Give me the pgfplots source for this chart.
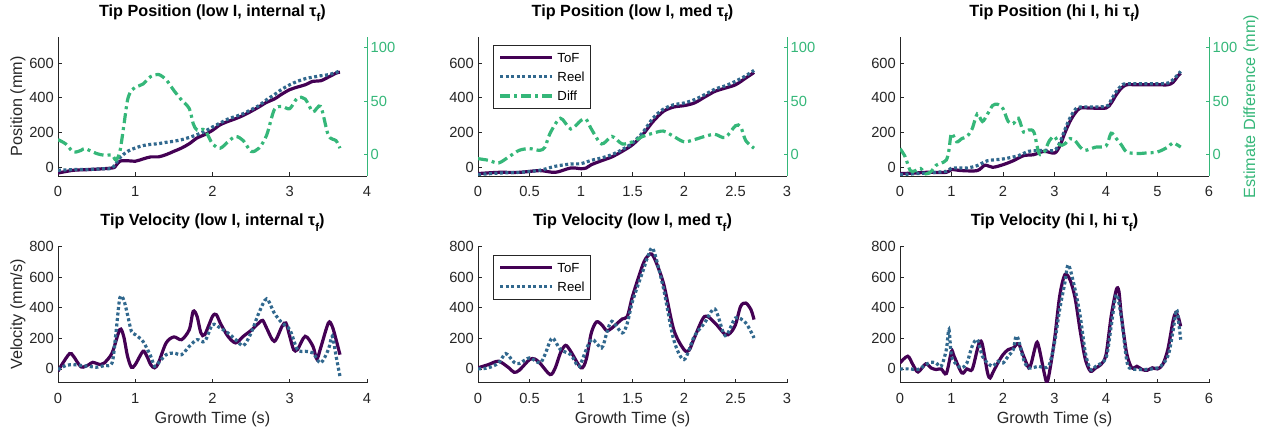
\documentclass[border=0pt]{standalone}
\usepackage{fontspec}
\setmainfont{Liberation Sans}
\usepackage{pgfplots}
\pgfplotsset{compat=1.18}

\definecolor{tofc}{RGB}{68,1,84}
\definecolor{reelc}{RGB}{49,104,142}
\definecolor{diffc}{RGB}{53,183,121}
\definecolor{axgray}{RGB}{38,38,38}

\newcommand\tickfont{\fontsize{14.7}{17}\selectfont}
\newcommand\labfont{\fontsize{16.2}{19}\selectfont}
\newcommand\titfont{\fontsize{16.2}{19}\selectfont\bfseries}
\newcommand\legfont{\fontsize{13.2}{15}\selectfont}
% subscript f of the time constant, set low as in the titles
\newcommand\tauf{τ\raisebox{-0.32em}{\fontsize{11.5}{12}\selectfont f}}

\pgfplotsset{
  tof/.style={tofc, line width=3.2pt, smooth, tension=0.5},
  reel/.style={reelc, line width=3.2pt, dash pattern=on 3pt off 2.5pt, smooth, tension=0.5},
  diff/.style={diffc, line width=3.2pt, dash pattern=on 10pt off 4pt on 3pt off 4pt, smooth, tension=0.5},
  panel/.style={
    scale only axis, width=309pt, anchor=south west,
    axis line style={-, draw=axgray, line width=0.8pt},
    every tick/.style={draw=axgray, line width=0.8pt},
    major tick length=3.5pt, tick align=inside,
    ticklabel style={font=\tickfont, text=axgray, inner sep=0pt},
    /pgf/number format/assume math mode=true,
    xticklabel style={anchor=north, yshift=-10pt},
    title style={at={(axis description cs:0.5,1)}, anchor=base, yshift=14.5pt, font=\titfont, text=black, inner sep=0pt},
    every axis y label/.style={at={(axis description cs:-0.1165,0.5)}, rotate=90, anchor=base, font=\labfont, text=axgray, inner sep=0pt},
    every axis x label/.style={at={(axis description cs:0.5,0)}, anchor=base, yshift=-40.6pt, font=\labfont, text=axgray, inner sep=0pt},
    legend image code/.code={\draw[##1] (0pt,0pt) -- (51.7pt,0pt);},
    legend cell align=left,
    legend style={draw=axgray, line width=0.6pt, fill=white, font=\legfont,
      inner xsep=5.3pt, inner ysep=7.5pt, row sep=9.6pt, cells={anchor=west},
      nodes={inner sep=0pt, text height=9.6pt, text depth=0pt},
      /tikz/every odd column/.append style={column sep=4pt}},
  },
  lefty/.style={panel, axis x line*=bottom, axis y line*=left,
    yticklabel style={anchor=east, xshift=-4pt}},
  posleft/.style={lefty, height=139pt, ymin=-50, ymax=750, ytick={0,200,400,600}},
  posright/.style={panel, height=139pt, ymin=-20, ymax=110, ytick={0,50,100},
    axis y line*=right, axis x line=none, xtick=\empty,
    y axis line style={draw=diffc},
    every tick/.append style={draw=diffc},
    yticklabel style={anchor=west, xshift=3.5pt, text=diffc}},
  vel/.style={lefty, height=136.3pt, ymin=-90, ymax=800, ytick={0,200,400,600,800},
    xlabel={Growth Time (s)}},
}

\begin{document}
\begin{tikzpicture}
\useasboundingbox (0,0) rectangle (1266pt,428pt);

% ---------- Position, low I, internal tau_f ----------
\begin{axis}[posleft, at={(58pt,252pt)}, xmin=0, xmax=4, xtick={0,1,2,3,4},
  ylabel={Position (mm)}, title={Tip Position (low I, internal \tauf)}]
\addplot[tof] table {
0 -33
0.2 -17
0.4 -13
0.7 -4
0.75 10
0.8 35
0.9 38
1.0 35
1.1 48
1.2 60
1.3 60
1.4 73
1.5 92
1.6 111
1.7 136
1.8 169
1.9 188
2.0 213
2.1 245
2.2 264
2.3 280
2.4 299
2.5 322
2.6 347
2.7 374
2.8 393
2.9 422
3.0 447
3.1 462
3.2 475
3.3 495
3.4 498
3.5 519
3.6 542
3.65 548
};
\addplot[reel] table {
0 -17
0.2 -13
0.4 -12
0.6 -8
0.7 -4
0.8 54
0.9 92
1.0 111
1.1 125
1.2 132
1.3 136
1.4 144
1.5 150
1.6 159
1.7 172
1.8 188
1.9 207
2.0 232
2.1 255
2.2 278
2.3 293
2.4 309
2.5 332
2.6 355
2.7 389
2.8 418
2.9 450
3.0 475
3.1 495
3.2 510
3.3 519
3.4 527
3.5 533
3.6 546
3.65 556
};
\end{axis}
\begin{axis}[posright, at={(58pt,252pt)}, xmin=0, xmax=4]
\addplot[diff] table {
0 14
0.1 10
0.2 2.5
0.3 4
0.35 5.6
0.5 1
0.6 -0.6
0.7 -0.6
0.75 -5
0.8 2.5
0.85 26
0.9 51
0.95 60
1.0 63
1.1 66
1.2 73
1.3 75
1.4 70
1.5 60
1.6 51
1.7 43
1.75 29
1.8 23
1.9 23
2.0 10
2.1 6
2.2 12
2.3 17
2.4 13
2.5 3
2.6 6
2.7 18
2.8 42
2.9 45
3.0 43
3.1 53
3.2 52
3.3 40
3.4 45
3.5 18
3.6 13
3.65 6
};
\end{axis}

% ---------- Position, low I, med tau_f ----------
\begin{axis}[posleft, at={(478pt,252pt)}, xmin=0, xmax=3, xtick={0,0.5,1,1.5,2,2.5,3},
  title={Tip Position (low I, med \tauf)}]
\addplot[tof] table {
0 -36
0.2 -29
0.4 -29
0.6 -19
0.75 -29
0.9 -4
1.0 -8
1.05 -4
1.1 15
1.2 38
1.3 60
1.4 92
1.5 130
1.6 188
1.7 264
1.8 322
1.9 347
2.0 355
2.1 370
2.2 404
2.3 437
2.4 456
2.5 475
2.6 514
2.68 546
};
\addplot[reel] table {
0 -42
0.2 -33
0.4 -29
0.6 -17
0.75 6
0.9 19
1.0 21
1.1 40
1.2 54
1.3 73
1.4 102
1.5 140
1.6 201
1.7 284
1.8 335
1.9 360
2.0 370
2.1 389
2.2 418
2.3 450
2.4 469
2.5 495
2.6 527
2.68 558
};
\end{axis}
\begin{axis}[posright, at={(478pt,252pt)}, xmin=0, xmax=3,
  legend style={at={(0.0485,0.942)}, anchor=north west}]
\addlegendimage{tof}\addlegendentry{ToF}
\addlegendimage{reel}\addlegendentry{Reel}
\addplot[diff] table {
0 -3.8
0.1 -5.3
0.2 -7.8
0.3 -2
0.4 4
0.5 5.6
0.6 4
0.65 7
0.7 20
0.8 34
0.9 24
1.0 32
1.05 33
1.1 24
1.2 10
1.3 17
1.4 10
1.5 12
1.6 17
1.7 20
1.8 22
1.9 17
2.0 12
2.1 14
2.2 17
2.3 19
2.4 16
2.5 27
2.55 26
2.6 13
2.68 6
};
\addlegendentry{Diff}
\end{axis}

% ---------- Position, hi I, hi tau_f ----------
\begin{axis}[posleft, at={(900pt,252pt)}, xmin=0, xmax=6, xtick={0,1,2,3,4,5,6},
  title={Tip Position (hi I, hi \tauf)}]
\addplot[tof] table {
0 -36
0.3 -33
0.5 -29
0.9 -29
1.0 -13
1.2 -19
1.5 -19
1.65 12
1.8 0
2.0 15
2.2 38
2.4 67
2.6 73
2.8 92
3.0 82
3.1 121
3.2 197
3.3 264
3.4 312
3.5 341
3.7 341
4.0 341
4.1 370
4.2 418
4.3 456
4.4 475
4.6 475
5.0 475
5.2 475
5.3 489
5.4 527
5.45 542
};
\addplot[reel] table {
0 -42
0.5 -33
0.9 -23
1.0 -4
1.3 -4
1.5 10
1.7 38
2.0 48
2.3 67
2.5 92
2.8 98
3.0 98
3.1 140
3.2 216
3.3 284
3.4 332
3.5 347
4.0 351
4.1 389
4.2 437
4.3 469
4.4 481
5.0 481
5.2 485
5.3 504
5.45 552
};
\end{axis}
\begin{axis}[posright, at={(900pt,252pt)}, xmin=0, xmax=6,
  ylabel={Estimate Difference (mm)},
  every axis y label/.append style={at={(axis description cs:1.1489,0.5)}, text=diffc}]
\addplot[diff] table {
0 5.6
0.1 -2
0.2 -15
0.3 -15
0.4 -13
0.5 -18
0.6 -16
0.7 -10
0.8 -8
0.9 -5
0.95 4
1.0 20
1.1 12
1.2 15
1.3 17
1.4 24
1.5 38
1.6 31
1.7 38
1.8 46
1.9 47
2.0 43
2.1 31
2.2 29
2.3 34
2.4 21
2.5 23
2.6 21
2.7 1
2.8 2.5
2.9 13
3.0 17
3.1 9
3.2 10
3.3 15
3.4 13
3.5 7
3.6 4
3.8 7
4.0 8
4.1 20
4.2 15
4.3 9
4.4 2.5
4.6 1
4.8 1.6
5.0 2.5
5.2 7
5.3 11
5.45 7
};
\end{axis}

% ---------- Velocity, low I, internal tau_f ----------
\begin{axis}[vel, at={(58pt,45.3pt)}, xmin=0, xmax=4, xtick={0,1,2,3,4},
  ylabel={Velocity (mm/s)}, title={Tip Velocity (low I, internal \tauf)}]
\addplot[tof] table {
0 -15
0.05 28
0.15 100
0.2 83
0.3 13
0.4 28
0.45 43
0.55 28
0.6 39
0.7 104
0.8 257
0.85 213
0.9 83
0.95 11
1.0 28
1.1 115
1.15 83
1.2 28
1.25 7
1.3 39
1.4 170
1.5 209
1.6 191
1.7 257
1.75 376
1.8 343
1.85 235
1.9 224
2.0 343
2.05 354
2.1 300
2.2 213
2.3 170
2.4 213
2.5 252
2.6 300
2.65 317
2.7 267
2.8 180
2.9 278
2.95 300
3.0 213
3.05 126
3.1 126
3.2 213
3.3 148
3.35 65
3.4 137
3.5 300
3.55 278
3.6 191
3.65 93
};
\addplot[reel] table {
0 -4
0.1 22
0.2 28
0.3 22
0.4 17
0.5 11
0.6 22
0.7 39
0.75 235
0.8 463
0.85 452
0.9 354
0.95 246
1.0 224
1.1 180
1.2 83
1.25 17
1.3 39
1.4 93
1.5 104
1.6 93
1.7 148
1.8 191
1.9 180
2.0 289
2.1 267
2.2 235
2.3 191
2.4 152
2.5 235
2.6 365
2.7 457
2.8 365
2.9 300
3.0 257
3.1 126
3.2 115
3.3 104
3.4 39
3.5 126
3.55 213
3.6 83
3.65 -48
};
\end{axis}

% ---------- Velocity, low I, med tau_f ----------
\begin{axis}[vel, at={(478pt,45.3pt)}, xmin=0, xmax=3, xtick={0,0.5,1,1.5,2,2.5,3},
  title={Tip Velocity (low I, med \tauf)},
  legend style={at={(0.0485,0.939)}, anchor=north west}]
\addplot[tof] table {
0 7
0.1 28
0.2 50
0.3 7
0.35 -22
0.4 -9
0.5 61
0.55 65
0.6 39
0.7 -37
0.75 7
0.8 104
0.85 154
0.9 115
1.0 7
1.05 61
1.1 235
1.15 307
1.2 289
1.25 250
1.3 267
1.4 326
1.45 343
1.5 474
1.6 680
1.65 739
1.7 739
1.8 561
1.9 257
2.0 126
2.05 122
2.1 202
2.2 343
2.3 300
2.4 224
2.45 235
2.5 289
2.55 409
2.6 430
2.65 387
2.68 322
};
\addlegendentry{ToF}
\addplot[reel] table {
0 0
0.1 7
0.2 39
0.27 100
0.35 43
0.4 35
0.5 72
0.6 39
0.65 93
0.72 202
0.8 126
0.9 93
0.97 17
1.0 39
1.1 191
1.2 137
1.25 235
1.3 311
1.4 235
1.45 300
1.5 441
1.6 637
1.65 735
1.7 783
1.8 528
1.9 191
2.0 61
2.1 213
2.2 300
2.3 391
2.4 217
2.5 333
2.6 300
2.68 202
};
\addlegendentry{Reel}
\end{axis}

% ---------- Velocity, hi I, hi tau_f ----------
\begin{axis}[vel, at={(900pt,45.3pt)}, xmin=0, xmax=6, xtick={0,1,2,3,4,5,6},
  title={Tip Velocity (hi I, hi \tauf)}]
\addplot[tof] table {
0 39
0.15 83
0.25 28
0.35 -20
0.5 33
0.6 7
0.7 -4
0.8 0
0.9 -30
1.0 115
1.05 83
1.2 -26
1.3 0
1.4 -4
1.5 126
1.55 180
1.6 159
1.7 -26
1.75 -59
1.8 -26
1.9 39
2.0 93
2.1 126
2.2 137
2.3 165
2.4 83
2.5 7
2.55 39
2.65 170
2.7 137
2.8 -26
2.85 -87
2.9 -26
3.0 191
3.1 474
3.2 615
3.3 583
3.4 463
3.5 246
3.6 61
3.7 -15
3.8 7
3.9 28
4.0 93
4.1 343
4.2 517
4.25 507
4.3 343
4.4 104
4.5 7
4.6 17
4.7 -4
4.8 -9
4.9 7
5.0 0
5.1 28
5.2 126
5.3 311
5.35 365
5.4 343
5.45 278
};
\addplot[reel] table {
0 0
0.2 0
0.35 -4
0.5 28
0.6 43
0.7 39
0.8 17
0.9 126
0.95 257
1.0 83
1.1 28
1.2 7
1.3 39
1.4 148
1.5 191
1.6 83
1.7 39
1.8 17
1.9 50
2.0 39
2.1 83
2.2 126
2.25 213
2.3 191
2.4 61
2.5 7
2.7 17
2.8 7
2.9 28
3.0 170
3.1 387
3.2 561
3.27 680
3.4 517
3.5 343
3.6 104
3.7 -4
3.8 17
4.0 72
4.1 278
4.2 485
4.3 333
4.4 61
4.5 0
5.0 7
5.2 83
5.3 246
5.37 387
5.42 278
5.45 191
};
\end{axis}
\end{tikzpicture}
\end{document}
